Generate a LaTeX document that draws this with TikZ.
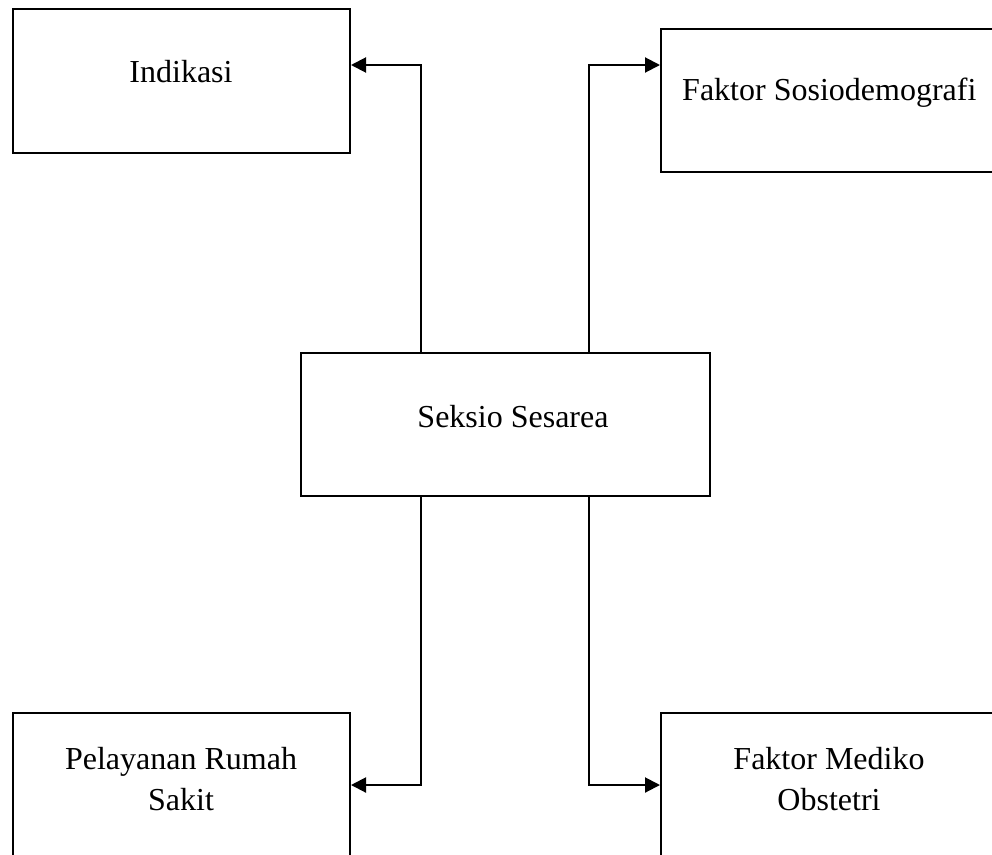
\documentclass[tikz,border=0pt]{standalone}
\usepackage{fontspec}
\setmainfont{Liberation Serif}
\usetikzlibrary{arrows.meta}
\begin{document}
\begin{tikzpicture}[x=1pt,y=-1pt,
  box/.style={draw=black,line width=2pt,fill=none,rectangle,inner sep=0pt},
  txt/.style={anchor=base,inner sep=0pt,font=\fontsize{32}{41}\selectfont},
  arr/.style={line width=2pt,-{Triangle[length=15pt,width=15pt]}}]
\useasboundingbox (0,0) rectangle (992,854);
\clip (0,0) rectangle (992,854);
\fill[white] (0,0) rectangle (992,854);
% boxes
\node[box,minimum width=337pt,minimum height=144pt] (ind) at (181.5,81) {};
\node[box,minimum width=334pt,minimum height=143pt] (sos) at (828,100.5) {};
\node[box,minimum width=409pt,minimum height=143pt] (sek) at (505.5,424.5) {};
\node[box,minimum width=337pt,minimum height=144pt] (pel) at (181.5,785) {};
\node[box,minimum width=334pt,minimum height=144pt] (med) at (828,785) {};
% texts
\node[txt] (tind) at (181,82) {Indikasi};
\node[txt,anchor=base west] (tsos) at (682,100) {Faktor Sosiodemografi};
\node[txt] (tsek) at (513,427) {Seksio Sesarea};
\node[txt] (tpel1) at (181,769) {Pelayanan Rumah};
\node[txt] (tpel2) at (181,810) {Sakit};
\node[txt] (tmed1) at (829,769) {Faktor Mediko};
\node[txt] (tmed2) at (829,810) {Obstetri};
% connectors
\draw[arr] ([xshift=-84.5pt]sek.north) |- ([yshift=16pt]ind.east);
\draw[arr] ([xshift=83.5pt]sek.north) |- ([yshift=35.5pt]sos.west);
\draw[arr] ([xshift=-84.5pt]sek.south) |- (pel.east);
\draw[arr] ([xshift=83.5pt]sek.south) |- (med.west);
\end{tikzpicture}
\end{document}
